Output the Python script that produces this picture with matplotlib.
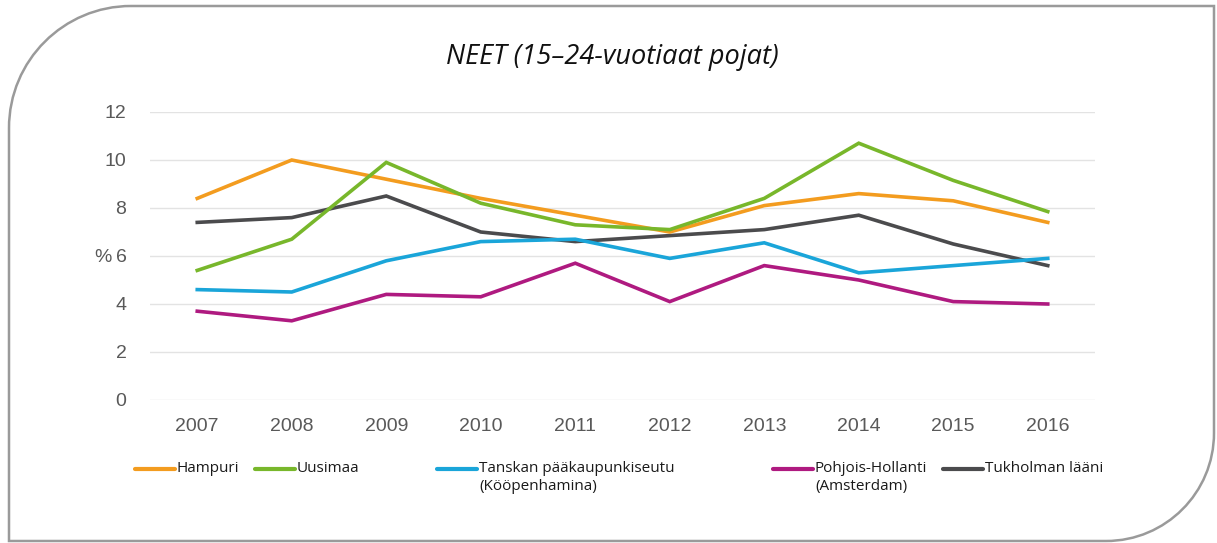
import matplotlib
matplotlib.use("Agg")
import matplotlib.pyplot as plt
from matplotlib.path import Path
from matplotlib.patches import PathPatch
from matplotlib.lines import Line2D

years = [2007, 2008, 2009, 2010, 2011, 2012, 2013, 2014, 2015, 2016]
hampuri = [8.4, 10.0, 9.2, 8.4, 7.7, 7.0, 8.1, 8.6, 8.3, 7.4]
uusimaa = [5.4, 6.7, 9.9, 8.2, 7.3, 7.1, 8.4, 10.7, 9.15, 7.85]
tanska = [4.6, 4.5, 5.8, 6.6, 6.7, 5.9, 6.55, 5.3, 5.6, 5.9]
pohjois_hollanti = [3.7, 3.3, 4.4, 4.3, 5.7, 4.1, 5.6, 5.0, 4.1, 4.0]
tukholma = [7.4, 7.6, 8.5, 7.0, 6.6, 6.85, 7.1, 7.7, 6.5, 5.6]

labels = ["Hampuri", "Uusimaa", "Tanskan pääkaupunkiseutu\n(Kööpenhamina)",
          "Pohjois-Hollanti\n(Amsterdam)", "Tukholman lääni"]
colors = ["#F39C1F", "#78B72B", "#1AA5D9", "#AF1A80", "#4B4B4D"]
series = [hampuri, uusimaa, tanska, pohjois_hollanti, tukholma]
# draw order: back to front
order = [4, 3, 2, 0, 1]

W, H = 1217, 543
fig = plt.figure(figsize=(W / 100, H / 100), dpi=100)

# overlay for frame and legend, in pixel coords
bg = fig.add_axes([0, 0, 1, 1])
bg.set_xlim(0, W)
bg.set_ylim(H, 0)
bg.axis("off")

x0, y0, x1, y1 = 9, 6, 1214, 541
r1, r2 = 122, 108
k = 0.5523
verts = [
    (x0 + r1, y0), (x1, y0), (x1, y1 - r2),
    (x1, y1 - r2 + k * r2), (x1 - r2 + k * r2, y1), (x1 - r2, y1),
    (x0, y1), (x0, y0 + r1),
    (x0, y0 + r1 - k * r1), (x0 + r1 - k * r1, y0), (x0 + r1, y0),
]
codes = [Path.MOVETO, Path.LINETO, Path.LINETO,
         Path.CURVE4, Path.CURVE4, Path.CURVE4,
         Path.LINETO, Path.LINETO,
         Path.CURVE4, Path.CURVE4, Path.CURVE4]
bg.add_patch(PathPatch(Path(verts, codes), facecolor="none",
                       edgecolor="#9a9a9a", lw=1.8))

bg.text(612, 57, "NEET (15–24-vuotiaat pojat)", ha="center", va="center",
        fontsize=19.5, style="italic", family="Open Sans", color="#111111")

# legend
handle_x = [135, 255, 437, 773, 943]
for i in range(5):
    hx = handle_x[i]
    bg.add_line(Line2D([hx, hx + 40], [469, 469], color=colors[i], lw=3,
                       solid_capstyle="round"))
    bg.text(hx + 42, 461, labels[i], ha="left", va="top", fontsize=11,
            family="Open Sans", color="#1a1a1a", linespacing=1.3)

ax = fig.add_axes([150 / W, 143 / H, 945 / W, 288 / H])
ax.set_facecolor("none")
for i in order:
    ax.plot(years, series[i], color=colors[i], lw=2.6, solid_joinstyle="miter")

ax.set_xlim(2006.5, 2016.5)
ax.set_ylim(0, 12)
ax.set_yticks(range(0, 13, 2))
ax.set_xticks(years)
ax.grid(axis="y", color="#e3e3e3", lw=1)
ax.set_axisbelow(True)
for s in ax.spines.values():
    s.set_visible(False)
ax.tick_params(length=0, labelsize=14, labelcolor="#595959")
ax.tick_params(axis="y", pad=17)
ax.tick_params(axis="x", pad=13)
for t in ax.get_xticklabels() + ax.get_yticklabels():
    t.set_family("Liberation Sans")

bg.text(103, 258, "%", ha="center", va="center", fontsize=14,
        family="Liberation Sans", color="#595959")

fig.savefig("out.png", dpi=100)
